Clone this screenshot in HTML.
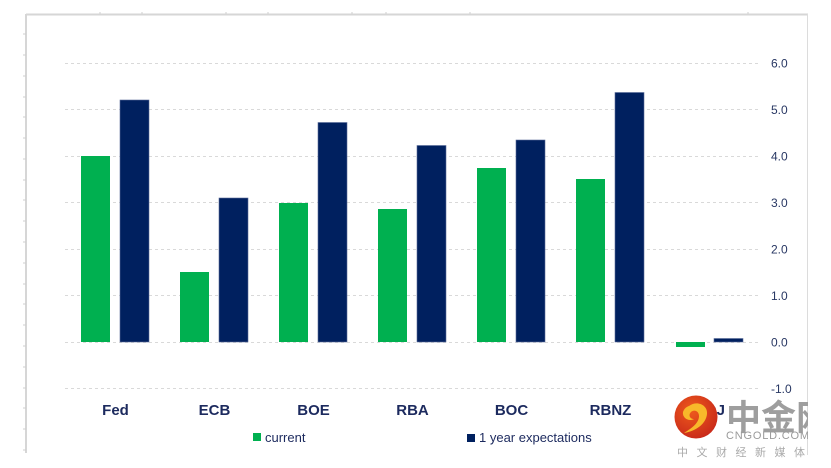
<!DOCTYPE html>
<html><head><meta charset="utf-8"><style>
html,body{margin:0;padding:0;background:#fff;}
svg{display:block;}
text{font-family:"Liberation Sans","Noto Sans CJK SC",sans-serif;}
</style></head><body>
<svg width="831" height="468" viewBox="0 0 831 468" xmlns="http://www.w3.org/2000/svg">
<defs>
<clipPath id="wm"><rect x="0" y="0" width="808" height="468"/></clipPath>
<radialGradient id="lg" cx="40%" cy="35%" r="70%"><stop offset="0" stop-color="#ee5a1c"/><stop offset="1" stop-color="#c8281a"/></radialGradient>
</defs>
<!-- frame -->
<line x1="26" y1="14.5" x2="808" y2="14.5" stroke="#d6d6d6" stroke-width="2"/>
<line x1="26" y1="14" x2="26" y2="453" stroke="#d6d6d6" stroke-width="2"/>
<line x1="807.5" y1="14" x2="807.5" y2="455" stroke="#dcdcdc" stroke-width="1"/>
<g stroke="#cfcfcf" stroke-width="1">
<line x1="23" y1="34" x2="26" y2="34"/><line x1="23" y1="55" x2="26" y2="55"/><line x1="23" y1="76" x2="26" y2="76"/><line x1="23" y1="97" x2="26" y2="97"/><line x1="23" y1="117" x2="26" y2="117"/><line x1="23" y1="138" x2="26" y2="138"/><line x1="23" y1="159" x2="26" y2="159"/><line x1="23" y1="180" x2="26" y2="180"/><line x1="23" y1="200" x2="26" y2="200"/><line x1="23" y1="221" x2="26" y2="221"/><line x1="23" y1="242" x2="26" y2="242"/><line x1="23" y1="263" x2="26" y2="263"/><line x1="23" y1="284" x2="26" y2="284"/><line x1="23" y1="304" x2="26" y2="304"/><line x1="23" y1="325" x2="26" y2="325"/><line x1="23" y1="346" x2="26" y2="346"/><line x1="23" y1="367" x2="26" y2="367"/><line x1="23" y1="388" x2="26" y2="388"/><line x1="23" y1="408" x2="26" y2="408"/><line x1="23" y1="429" x2="26" y2="429"/><line x1="23" y1="450" x2="26" y2="450"/>
<line x1="100" y1="12" x2="100" y2="14"/><line x1="142" y1="12" x2="142" y2="14"/><line x1="226" y1="12" x2="226" y2="14"/><line x1="268" y1="12" x2="268" y2="14"/><line x1="352" y1="12" x2="352" y2="14"/><line x1="386" y1="12" x2="386" y2="14"/><line x1="470" y1="12" x2="470" y2="14"/><line x1="748" y1="12" x2="748" y2="14"/>
</g>
<!-- gridlines -->
<g stroke="#d9d9d9" stroke-width="1" stroke-dasharray="3,3">
<line x1="65" y1="63.5" x2="760" y2="63.5"/>
<line x1="65" y1="109.5" x2="760" y2="109.5"/>
<line x1="65" y1="156.5" x2="760" y2="156.5"/>
<line x1="65" y1="202.5" x2="760" y2="202.5"/>
<line x1="65" y1="249.5" x2="760" y2="249.5"/>
<line x1="65" y1="295.5" x2="760" y2="295.5"/>
<line x1="65" y1="342.5" x2="760" y2="342.5"/>
<line x1="65" y1="388.5" x2="760" y2="388.5"/>
</g>
<!-- y labels -->
<g fill="#283763" font-size="12">
<text x="771" y="67.5">6.0</text>
<text x="771" y="114">5.0</text>
<text x="771" y="160.5">4.0</text>
<text x="771" y="207">3.0</text>
<text x="771" y="253.5">2.0</text>
<text x="771" y="300">1.0</text>
<text x="771" y="346.5">0.0</text>
<text x="771" y="393">-1.0</text>
</g>
<!-- bars -->
<g fill="#00b050">
<rect x="81" y="156" width="29" height="186"/>
<rect x="180" y="272" width="29" height="70"/>
<rect x="279" y="203" width="29" height="139"/>
<rect x="378" y="209" width="29" height="133"/>
<rect x="477" y="168" width="29" height="174"/>
<rect x="576" y="179" width="29" height="163"/>
<rect x="676" y="342" width="29" height="5"/>
</g>
<g fill="#00205f" stroke="#5a6d99" stroke-width="0.6">
<rect x="120" y="100" width="29" height="242"/>
<rect x="219" y="198" width="29" height="144"/>
<rect x="318" y="122.5" width="29" height="219.5"/>
<rect x="417" y="145.5" width="29" height="196.5"/>
<rect x="516" y="140" width="29" height="202"/>
<rect x="615" y="92.5" width="29" height="249.5"/>
<rect x="714" y="338.5" width="29" height="3.5"/>
</g>
<!-- category labels -->
<g fill="#1c2a5e" font-size="15" font-weight="bold" text-anchor="middle">
<text x="115.5" y="415">Fed</text>
<text x="214.5" y="415">ECB</text>
<text x="313.5" y="415">BOE</text>
<text x="412.5" y="415">RBA</text>
<text x="511.5" y="415">BOC</text>
<text x="610.5" y="415">RBNZ</text>
<text x="709.5" y="415">BOJ</text>
</g>
<!-- legend -->
<rect x="253" y="433" width="8" height="8" fill="#00b050"/>
<text x="265" y="442" font-size="13" fill="#1c2a5e">current</text>
<rect x="467" y="434" width="8" height="8" fill="#00205f"/>
<text x="479" y="442" font-size="13" fill="#1c2a5e">1 year expectations</text>
<!-- watermark -->
<g clip-path="url(#wm)">
<circle cx="696" cy="417" r="21.5" fill="url(#lg)"/>
<path d="M689 406 C697 400 708 405 707 414 C706 424 696 431 684 433 C692 428 699 423 699 416 C699 411 694 409 691 412 C688 415 690 419 694 419 C689 422 682 418 683 412 C684 409 686 407 689 406 Z" fill="#f8b82a"/>
<text x="726" y="430" font-size="35" font-weight="bold" fill="#9e9e9e" font-family="Noto Sans CJK SC, sans-serif">中金网</text>
<text x="726" y="439" font-size="11" fill="#9a9a9a" letter-spacing="0.8">CNGOLD.COM.CN</text>
<text x="677" y="456" font-size="11" fill="#aaaaaa" letter-spacing="8.5" font-family="Noto Sans CJK SC, sans-serif">中文财经新媒体</text>
</g>
</svg>
</body></html>
